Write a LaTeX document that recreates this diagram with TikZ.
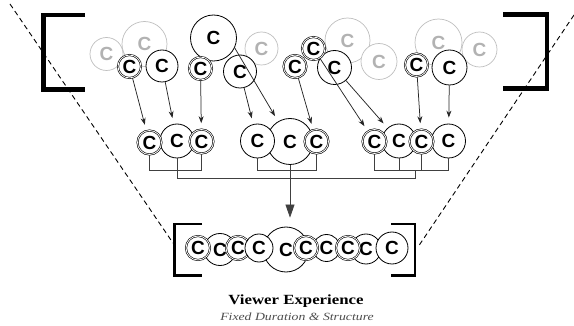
\documentclass[tikz,border=0pt]{standalone}
\usepackage{graphicx}
\usepackage{fontspec}
\setmainfont{Liberation Serif}
\newfontfamily\cfont{Liberation Sans}
\usetikzlibrary{arrows.meta}
\begin{document}
\begin{tikzpicture}[x=1pt,y=-1pt,
  cc/.style={circle, draw=black, fill=white, line width=0.8pt, inner sep=0pt, text=black, font=\cfont\bfseries\fontsize{19}{19}\selectfont},
  ccs/.style={cc, double=white, double distance=0.8pt, line width=0.6pt},
  gc/.style={cc, draw=black!25, text=black!30, line width=0.7pt},
  arr/.style={draw=black!85, line width=0.75pt, -{Stealth[length=7pt,width=5pt]}, shorten >=6pt},
  link/.style={draw=black!75, line width=0.7pt},
  brk/.style={line width=4.5pt, line join=miter},
  brks/.style={line width=2.6pt, line join=miter},
  guide/.style={line width=0.9pt, dash pattern=on 5pt off 3.5pt}
]
\useasboundingbox (0,0) rectangle (574,326);

% guide lines and brackets
\draw[guide] (10,4) -- (173,243);
\draw[guide] (574,15) -- (418,247);
\draw[brk] (85,15) -- (43.5,15) -- (43.5,89.5) -- (85,89.5);
\draw[brk] (503,14.5) -- (547,14.5) -- (547,88.5) -- (503,88.5);
\draw[brks] (202,224) -- (174.5,224) -- (174.5,275.5) -- (202,275.5);
\draw[brks] (391,224) -- (415,224) -- (415,275.5) -- (391,275.5);

% grey (unused) clips
\node[gc, minimum size=33pt] (g1) at (106.5,54) {C};
\node[gc, minimum size=45pt] (g2) at (144.5,44) {C};
\node[gc, minimum size=33pt] (g3) at (261.5,48.5) {C};
\node[gc, minimum size=45pt] (g4) at (347.5,40.5) {C};
\node[gc, minimum size=36pt] (g5) at (379,61.5) {C};
\node[gc, minimum size=47pt] (g6) at (438.5,42.5) {C};
\node[gc, minimum size=35pt] (g7) at (479.5,49.5) {C};

% top clips
\node[cc, minimum size=46pt] (T0) at (213.5,38) {C};
\node[ccs, minimum size=23pt] (C1) at (129.5,66.5) {C};
\node[cc, minimum size=32pt] (C2) at (162,66) {C};
\node[ccs, minimum size=23pt] (C3) at (200.5,68.5) {C};
\node[cc, minimum size=33pt] (C4) at (240,71.5) {C};
\node[ccs, minimum size=23pt] (C5) at (295,66.5) {C};
\node[cc, minimum size=34pt] (C7) at (334.5,67.5) {C};
\node[ccs, minimum size=23pt] (C6) at (313.5,48.5) {C};
\node[ccs, minimum size=23pt] (C8) at (416.5,65) {C};
\node[cc, minimum size=35pt] (C9) at (449.5,67.5) {C};

% middle clips
\node[cc, minimum size=34pt] (m2) at (177,141) {C};
\node[ccs, minimum size=24pt] (m1) at (149.5,142.5) {C};
\node[ccs, minimum size=24pt] (m3) at (201.5,141.5) {C};
\node[cc, minimum size=46pt] (m5) at (290,141.5) {C};
\node[cc, minimum size=34pt] (m4) at (257.5,141) {C};
\node[ccs, minimum size=24pt] (m6) at (316.5,141.5) {C};
\node[cc, minimum size=34pt] (m8) at (399,141) {C};
\node[cc, minimum size=34pt] (m10) at (448.5,141) {C};
\node[ccs, minimum size=24pt] (m7) at (374.5,141.5) {C};
\node[ccs, minimum size=24pt] (m9) at (421.5,141.5) {C};

% bottom sequence
\node[cc, minimum size=32pt] (b2) at (220,249.5) {C};
\node[cc, minimum size=45pt] (b5) at (286,249.5) {C};
\node[cc, minimum size=30pt] (b9) at (366,249) {C};
\node[ccs, minimum size=24pt] (b1) at (198,248) {C};
\node[ccs, minimum size=24pt] (b3) at (238,248) {C};
\node[cc, minimum size=28pt] (b4) at (259,248) {C};
\node[cc, minimum size=27pt] (b7) at (326.5,248) {C};
\node[ccs, minimum size=24pt] (b6) at (306,248) {C};
\node[ccs, minimum size=24pt] (b8) at (348,248) {C};
\node[cc, minimum size=32pt] (b10) at (392,248) {C};

% arrows top -> middle
\draw[arr] (C1) -- (m1);
\draw[arr] (C2) -- (m2);
\draw[arr] (C3) -- (m3);
\draw[arr] (C4) -- (m4);
\draw[arr] (T0.-25) -- (m5);
\draw[arr] (C5) -- (m6);
\draw[arr] (C6) -- (m7);
\draw[arr] (C7) -- (m8);
\draw[arr] (C8) -- (m9);
\draw[arr] (C9) -- (m10);

% grouping connectors
\coordinate (bar1) at (0,170);
\coordinate (bar2) at (0,178);
\coordinate (drop3) at (415,170);
\draw[link] (m1.south) -- (m1.south |- bar1) -- (m3.south |- bar1) -- (m3.south);
\draw[link] (m2.south) -- (m2.south |- bar2) -- (drop3 |- bar2) -- (drop3);
\draw[link] (m4.south) -- (m4.south |- bar1) -- (m6.south |- bar1) -- (m6.south);
\draw[link] (m7.south) -- (m7.south |- bar1) -- (m10.south |- bar1) -- (m10.south);
\draw[link] (m8.south) -- (m8.south |- bar1);
\draw[link] (m9.south) -- (m9.south |- bar1);
\draw[link, -{Triangle[length=13pt,width=9pt]}, shorten >=9pt] (m5.south) -- (m5.south |- b5.north);

% caption
\node[anchor=base, font=\bfseries\fontsize{14}{14}\selectfont] (title) at (296,305) {\scalebox{1.2}[1]{Viewer Experience}};
\node[anchor=base, text=black!70, font=\itshape\fontsize{11}{11}\selectfont] (sub) at (297,320) {\scalebox{1.25}[1]{Fixed Duration \& Structure}};
\end{tikzpicture}
\end{document}
